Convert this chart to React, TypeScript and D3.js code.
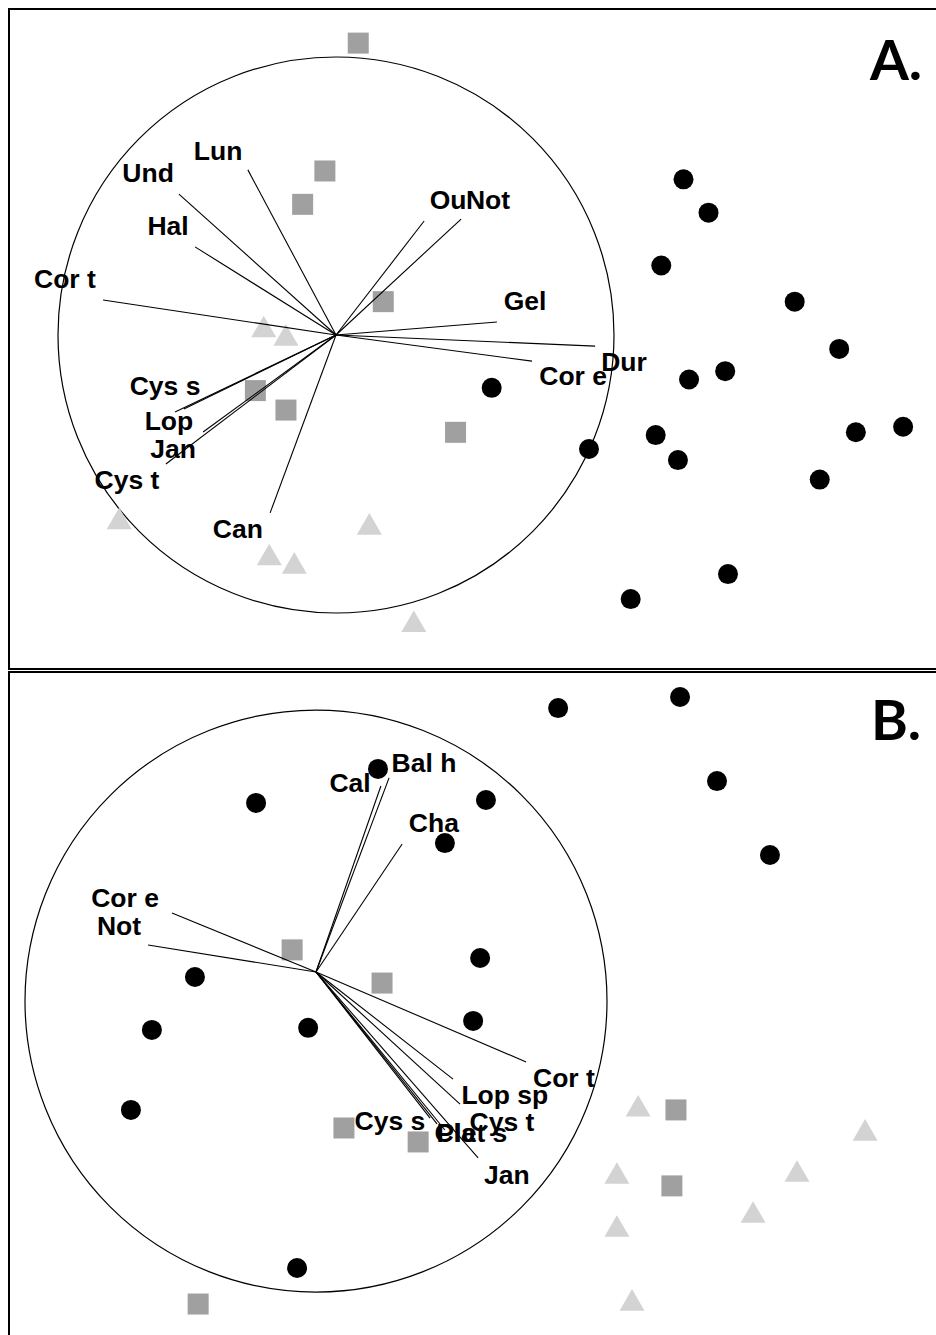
import React from "react";
import * as d3 from "d3";

// ordination scores, scaled so the correlation circle has radius 1

// panel A
const aCircles: [number, number][] = [
  [1.25, 0.56], [1.34, 0.44], [1.17, 0.25], [1.65, 0.12], [1.81, -0.05],
  [1.40, -0.13], [1.27, -0.16], [0.56, -0.19], [1.15, -0.36], [1.87, -0.35],
  [2.04, -0.33], [0.91, -0.41], [1.23, -0.45], [1.74, -0.52], [1.41, -0.86],
  [1.06, -0.95],
];
const aSquares: [number, number][] = [
  [0.08, 1.05], [-0.04, 0.59], [-0.12, 0.47], [0.17, 0.12],
  [-0.29, -0.2], [-0.18, -0.27], [0.43, -0.35],
];
const aTriangles: [number, number][] = [
  [-0.26, 0.03], [-0.18, 0.0], [-0.78, -0.66], [0.12, -0.68],
  [-0.24, -0.79], [-0.15, -0.82], [0.28, -1.03],
];
const aVars = ["Lun", "Und", "Hal", "Cor t", "Ou", "Not", "Gel", "Dur", "Cor e", "Cys s", "Lop", "Jan", "Cys t", "Can"];
const aVarEnds: [number, number][] = [
  [-0.317, 0.594], [-0.565, 0.507], [-0.507, 0.317], [-0.838, 0.126],
  [0.317, 0.41], [0.45, 0.417], [0.579, 0.047], [0.932, -0.04],
  [0.705, -0.094], [-0.579, -0.277], [-0.547, -0.266], [-0.478, -0.349],
  [-0.612, -0.464], [-0.237, -0.64],
];
const aLabelPos: [number, number][] = [
  [-0.424, 0.662], [-0.676, 0.583], [-0.604, 0.392], [-0.975, 0.201],
  [0.403, 0.486], [0.547, 0.486], [0.68, 0.122], [1.036, -0.097],
  [0.853, -0.147], [-0.615, -0.183], [-0.601, -0.309], [-0.586, -0.41],
  [-0.752, -0.522], [-0.353, -0.698],
];

// panel B
const bCircles: [number, number][] = [
  [0.832, 0.907], [1.251, 0.945], [1.378, 0.656], [1.56, 0.402],
  [0.213, 0.698], [-0.206, 0.581], [0.584, 0.591], [0.443, 0.443],
  [0.564, 0.048], [-0.416, -0.017], [0.54, -0.168], [-0.564, -0.199],
  [-0.027, -0.192], [-0.636, -0.474], [-0.065, -1.017],
];
const bSquares: [number, number][] = [
  [-0.082, 0.076], [0.227, -0.038], [1.237, -0.474], [0.096, -0.536],
  [0.351, -0.584], [1.223, -0.735], [-0.405, -1.141],
];
const bTriangles: [number, number][] = [
  [1.107, -0.46], [1.887, -0.543], [1.034, -0.691], [1.653, -0.684],
  [1.502, -0.825], [1.034, -0.873], [1.086, -1.127],
];
const bVars = ["Cal", "Bal h", "Cha", "Cor e", "Not", "Cor t", "Lop sp", "Cys t", "Cys s", "Cla", "Plet s", "Jan"];
const bVarEnds: [number, number][] = [
  [0.223, 0.639], [0.251, 0.667], [0.296, 0.44], [-0.495, 0.203],
  [-0.577, 0.093], [0.722, -0.309], [0.471, -0.368], [0.495, -0.454],
  [0.392, -0.502], [0.416, -0.522], [0.443, -0.543], [0.557, -0.639],
];
const bLabelPos: [number, number][] = [
  [0.117, 0.649], [0.371, 0.718], [0.405, 0.512], [-0.656, 0.254],
  [-0.677, 0.158], [0.852, -0.364], [0.649, -0.421], [0.639, -0.515],
  [0.254, -0.512], [0.478, -0.553], [0.536, -0.553], [0.656, -0.698],
];

const LABEL_FONT = "'Liberation Sans', Arial, sans-serif";
const triPath = d3.symbol(d3.symbolTriangle, 270)() as string;

function Biplot({ cx, cy, r, circleCenter, circles, squares, triangles, vars, ends, labelPos, title, titleY }) {
  const x = d3.scaleLinear().domain([-1, 1]).range([cx - r, cx + r]);
  const y = d3.scaleLinear().domain([-1, 1]).range([cy + r, cy - r]);

  return (
    <g>
      <circle
        cx={x(circleCenter[0])}
        cy={y(circleCenter[1])}
        r={x(1) - x(0)}
        fill="none"
        stroke="#000"
        strokeWidth={1.2}
      />
      {squares.map((d, i) => (
        <rect key={"s" + i} x={x(d[0]) - 10.5} y={y(d[1]) - 10.5} width={21} height={21} fill="#a0a0a0" />
      ))}
      {triangles.map((d, i) => (
        <path key={"t" + i} d={triPath} transform={`translate(${x(d[0])},${y(d[1]) + 3.5})`} fill="#d3d3d3" />
      ))}
      {vars.map((v, i) => (
        <line key={"l" + i} x1={x(0)} y1={y(0)} x2={x(ends[i][0])} y2={y(ends[i][1])} stroke="#000" strokeWidth={1.1} />
      ))}
      {circles.map((d, i) => (
        <circle key={"c" + i} cx={x(d[0])} cy={y(d[1])} r={10} fill="#000" />
      ))}
      {vars.map((v, i) => (
        <text
          key={"t" + i}
          x={x(labelPos[i][0])}
          y={y(labelPos[i][1])}
          textAnchor="middle"
          dominantBaseline="central"
          fontFamily={LABEL_FONT}
          fontWeight="bold"
          fontSize={26.5}
        >
          {v}
        </text>
      ))}
      <text x={896} y={titleY} textAnchor="middle" fontFamily="Lato, 'Open Sans', sans-serif" fontWeight="bold" fontSize={56}>
        {title}
      </text>
    </g>
  );
}

export default function App() {
  return (
    <svg width={936} height={1335} style={{ position: "absolute", left: 0, top: 0, background: "#fff" }}>
      <rect x={0} y={0} width={936} height={1335} fill="#fff" />
      <Biplot
        cx={336} cy={335} r={278} circleCenter={[0, 0]}
        circles={aCircles} squares={aSquares} triangles={aTriangles}
        vars={aVars} ends={aVarEnds} labelPos={aLabelPos}
        title="A." titleY={80}
      />
      <Biplot
        cx={316} cy={972} r={291} circleCenter={[0, -0.1]}
        circles={bCircles} squares={bSquares} triangles={bTriangles}
        vars={bVars} ends={bVarEnds} labelPos={bLabelPos}
        title="B." titleY={740}
      />
      <rect x={9} y={9} width={940} height={660} fill="none" stroke="#000" strokeWidth={2} />
      <rect x={9} y={672} width={940} height={680} fill="none" stroke="#000" strokeWidth={2} />
    </svg>
  );
}
